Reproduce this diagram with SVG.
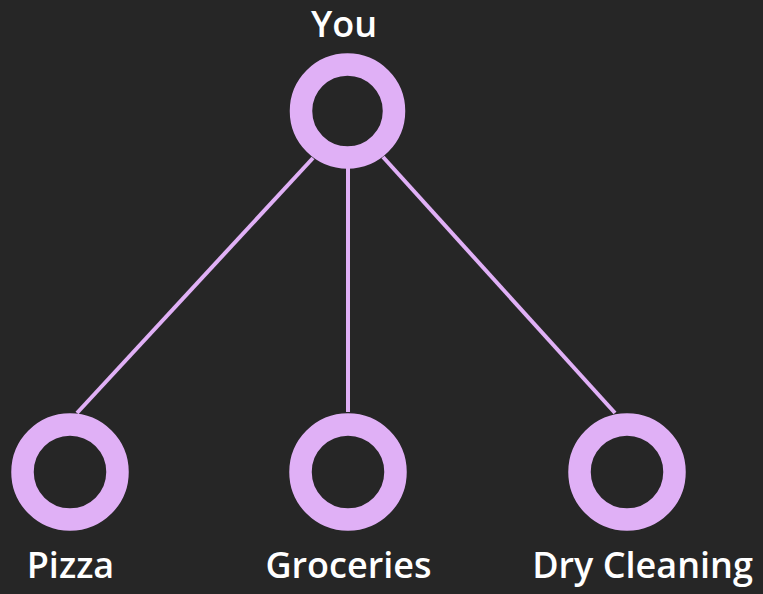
<svg xmlns="http://www.w3.org/2000/svg" width="763" height="594" viewBox="0 0 763 594">
  <style>
    .ring { fill: none; stroke: #e0b0f6; stroke-width: 22.5; }
    .edge { stroke: #e0b0f6; stroke-width: 4; fill: none; }
    .label { font-family: "Open Sans", "Liberation Sans", sans-serif; font-weight: 600; font-size: 36px; fill: #ffffff; text-anchor: middle; }
  </style>
  <rect x="0" y="0" width="763" height="594" fill="#262626"/>
  <g id="connectors">
    <line class="edge" x1="313" y1="158" x2="77" y2="413"/>
    <line class="edge" x1="348" y1="165" x2="348" y2="412"/>
    <line class="edge" x1="383" y1="157" x2="615" y2="413"/>
  </g>
  <g id="node-you">
    <circle class="ring" cx="347.5" cy="111" r="46.5"/>
    <text class="label" x="344" y="37">You</text>
  </g>
  <g id="node-pizza">
    <circle class="ring" cx="70" cy="472" r="47.5"/>
    <text class="label" x="70.5" y="578">Pizza</text>
  </g>
  <g id="node-groceries">
    <circle class="ring" cx="348" cy="472" r="47.5"/>
    <text class="label" x="348.5" y="578">Groceries</text>
  </g>
  <g id="node-dry-cleaning">
    <circle class="ring" cx="627" cy="472" r="47.5"/>
    <text class="label" x="642.5" y="578">Dry Cleaning</text>
  </g>
</svg>
